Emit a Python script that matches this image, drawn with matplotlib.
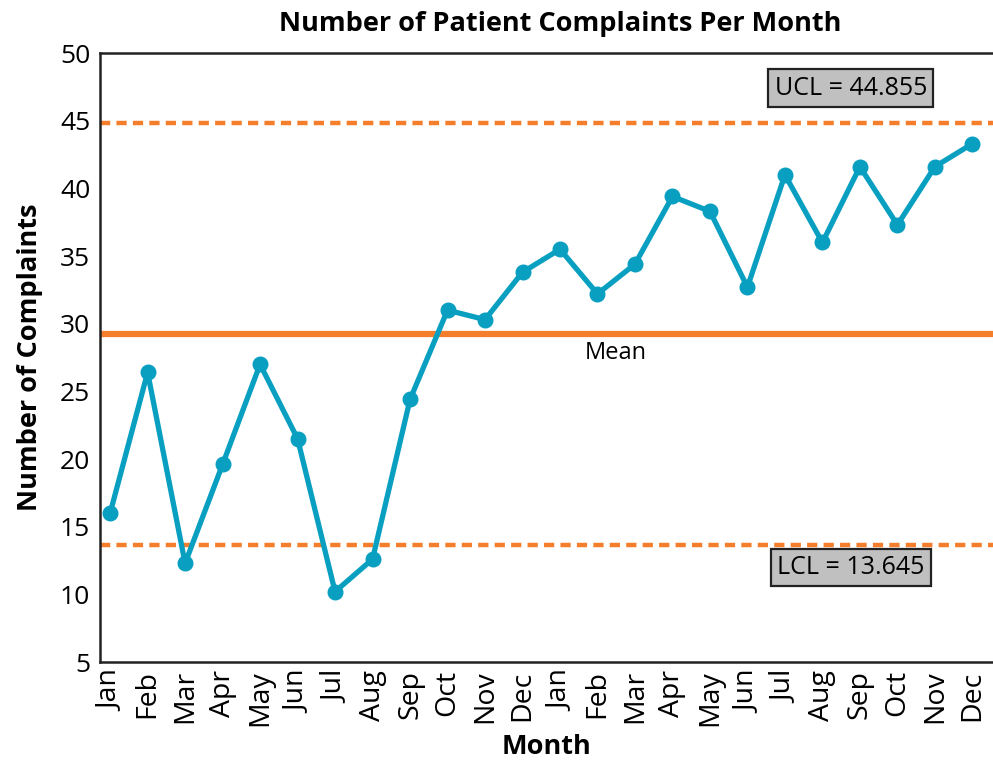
import matplotlib.pyplot as plt

plt.rcParams['font.family'] = ['Open Sans', 'DejaVu Sans']

months = ["Jan", "Feb", "Mar", "Apr", "May", "Jun",
          "Jul", "Aug", "Sep", "Oct", "Nov", "Dec"] * 2
complaints = [16.0, 26.4, 12.3, 19.6, 27.0, 21.5, 10.2, 12.6, 24.4, 31.0, 30.3, 33.8,
              35.5, 32.2, 34.4, 39.4, 38.3, 32.7, 41.0, 36.0, 41.6, 37.3, 41.6, 43.3]
ucl = 44.855
lcl = 13.645
mean = 29.25

teal = "#089fc0"
orange = "#f47e2c"

fig = plt.figure(figsize=(9.93, 7.65), dpi=100)
ax = fig.add_axes([0.1007, 0.1346, 0.8993, 0.7961])

x = list(range(len(months)))
ax.axhline(mean, color=orange, lw=4.5, zorder=2)
ax.axhline(ucl, color=orange, lw=3.2, dashes=(2.3, 1.4), zorder=2)
ax.axhline(lcl, color=orange, lw=3.2, dashes=(2.3, 1.4), zorder=2)
ax.plot(x, complaints, color=teal, lw=3.8, marker="o", markersize=10.5, zorder=3)

ax.set_xlim(-0.27, 23.55)
ax.set_ylim(5, 50)
ax.set_yticks(range(5, 51, 5))
ax.set_xticks(x)
ax.set_xticklabels(months, rotation=90, fontsize=20.5)
ax.tick_params(axis="y", labelsize=19, length=0, pad=7)
ax.tick_params(axis="x", length=0, pad=6)

for s in ["left", "bottom", "top"]:
    ax.spines[s].set_linewidth(1.8)
    ax.spines[s].set_color("#222222")
ax.spines["right"].set_visible(False)

box = dict(boxstyle="square,pad=0.25", facecolor="#c0c0c0", edgecolor="#222222", lw=1.6)
ax.text(19.76, 47.4, f"UCL = {ucl}", fontsize=18, ha="center", va="center", bbox=box)
ax.text(19.76, 12.0, f"LCL = {lcl}", fontsize=18, ha="center", va="center", bbox=box)
ax.text(13.5, mean - 0.5, "Mean", fontsize=17, ha="center", va="top")

ax.set_title("Number of Patient Complaints Per Month", fontsize=19.5, fontweight="bold",
             pad=16, x=0.515)
ax.set_ylabel("Number of Complaints", fontsize=19.5, fontweight="bold", labelpad=12)
ax.set_xlabel("Month", fontsize=19.5, fontweight="bold", labelpad=6)

fig.savefig("out.png", dpi=100)
